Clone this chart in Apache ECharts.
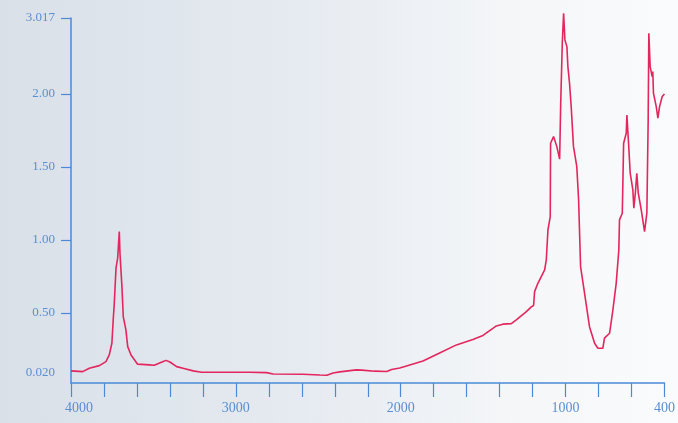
<!DOCTYPE html>
<html><head><meta charset="utf-8">
<script src="https://cdn.jsdelivr.net/npm/echarts@6/dist/echarts.min.js"></script>
<style>html,body{margin:0;padding:0;background:#fff}#c{width:678px;height:423px}</style>
</head><body><div id="c"></div>
<script>
// IR spectrum: wavenumber (cm-1) vs absorbance
const wavenumbers = [4000,3929,3889,3828,3788,3768,3752,3744,3738,3727,3717,3707,3703,3691,3683,3667,3656,3636,3596,3525,3495,3444,3424,3400,3359,3309,3259,3208,3097,2915,2814,2774,2592,2491,2448,2410,2370,2269,2236,2158,2085,2055,2006,1965,1865,1764,1662,1562,1501,1420,1380,1329,1299,1238,1208,1194,1188,1168,1158,1127,1117,1107,1093,1091,1073,1053,1036,1030,1020,1012,1004,992,986,976,966,952,932,921,909,885,855,824,804,774,764,733,713,693,677,673,656,648,632,628,618,608,592,586,576,568,559,541,521,507,499,495,487,475,471,467,450,440,430,414,400];
const absorbance = [0.103,0.098,0.121,0.139,0.166,0.212,0.292,0.452,0.555,0.806,0.875,1.057,0.909,0.680,0.475,0.384,0.269,0.212,0.149,0.144,0.142,0.166,0.175,0.164,0.132,0.118,0.103,0.094,0.094,0.094,0.091,0.082,0.080,0.075,0.073,0.089,0.096,0.110,0.108,0.101,0.099,0.113,0.123,0.137,0.171,0.226,0.281,0.318,0.346,0.411,0.423,0.427,0.452,0.509,0.541,0.551,0.646,0.703,0.712,0.795,0.863,1.068,1.160,1.662,1.708,1.639,1.553,1.913,2.347,2.553,2.370,2.324,2.187,2.073,1.913,1.639,1.502,1.274,0.817,0.635,0.406,0.292,0.258,0.258,0.327,0.361,0.521,0.703,0.932,1.137,1.183,1.662,1.731,1.856,1.662,1.457,1.342,1.217,1.331,1.457,1.320,1.205,1.057,1.183,1.822,2.416,2.187,2.118,2.153,2.005,1.913,1.834,1.913,1.982,2.000];
const xTickLabels = [4000, 3000, 2000, 1000, 400];
const yTickValues = [0.02, 0.5, 1.0, 1.5, 2.0, 2.52];
const yTickLabels = ['0.020', '0.50', '1.00', '1.50', '2.00', '3.017'];

const chart = echarts.init(document.getElementById('c'), null, {renderer: 'canvas'});
const axisColor = '#4a8ad6';
const labelColor = '#5a8fd2';
const font = '"Liberation Serif", "DejaVu Serif", serif';

chart.setOption({
  animation: false,
  backgroundColor: {
    type: 'linear', x: 0, y: 0, x2: 1, y2: 0,
    colorStops: [
      {offset: 0, color: '#d9e0e8'},
      {offset: 0.45, color: '#e6ebf1'},
      {offset: 0.75, color: '#f4f6f8'},
      {offset: 1, color: '#fafbfc'}
    ]
  },
  grid: {left: 71, right: 13, top: 18, bottom: 40},
  xAxis: {
    type: 'value', inverse: true, min: 400, max: 4000, interval: 200,
    axisLine: {show: true, onZero: false, lineStyle: {color: axisColor, width: 1.5}},
    axisTick: {show: true, length: 14, lineStyle: {color: axisColor, width: 1.2}},
    splitLine: {show: false},
    axisLabel: {
      margin: 18, color: labelColor, fontFamily: font, fontSize: 14,
      formatter: v => {
        if (v === 4000) return '{a|4000}';
        return xTickLabels.indexOf(v) >= 0 ? String(v) : '';
      },
      rich: {a: {padding: [0, 0, 0, 16], color: labelColor, fontFamily: font, fontSize: 14}}
    }
  },
  yAxis: {
    type: 'value', min: 0.02, max: 2.52,
    axisLine: {show: true, onZero: false, lineStyle: {color: axisColor, width: 1.5}},
    axisTick: {show: true, length: 10, customValues: [0.5, 1.0, 1.5, 2.0, 2.52], lineStyle: {color: axisColor, width: 1.2}},
    splitLine: {show: false},
    axisLabel: {
      margin: 16, color: labelColor, fontFamily: font, fontSize: 13,
      customValues: yTickValues,
      formatter: v => {
        const i = yTickValues.findIndex(t => Math.abs(t - v) < 1e-6);
        if (i < 0) return '';
        if (i === 0) return '{b|' + yTickLabels[0] + '}';
        return yTickLabels[i];
      },
      rich: {b: {padding: [0, 0, 20, 0], color: labelColor, fontFamily: font, fontSize: 13}}
    }
  },
  series: [{
    type: 'line',
    data: wavenumbers.map((w, i) => [w, absorbance[i]]),
    showSymbol: false,
    clip: false,
    lineStyle: {color: '#e3265e', width: 1.6},
    z: 5
  }]
});
</script>
</body></html>
